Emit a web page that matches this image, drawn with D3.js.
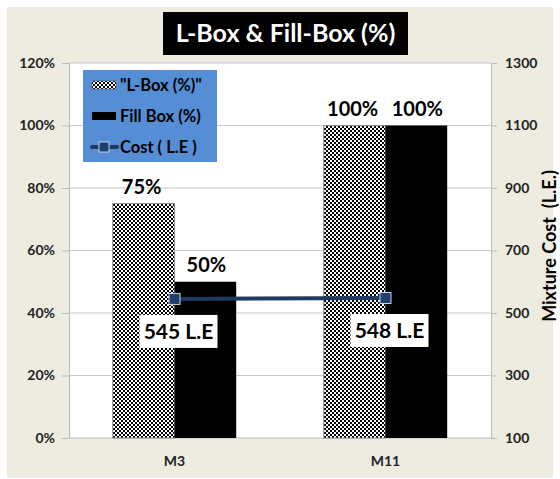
<!DOCTYPE html>
<html>
<head>
<meta charset="utf-8">
<script src="https://cdn.jsdelivr.net/npm/d3@7"></script>
<style>
  body { margin: 0; background: #fff; }
  text { font-family: Lato, "Open Sans", sans-serif; font-weight: bold; }
</style>
</head>
<body>
<svg width="560" height="479"></svg>
<script>
// data
var categories = ['M3', 'M11'];
var lBox = [75, 100];        // "L-Box (%)"
var fillBox = [50, 100];     // Fill Box (%)
var cost = [545, 548];       // Cost (L.E)
var leftTicks = [0, 20, 40, 60, 80, 100, 120];
var rightTicks = [100, 300, 500, 700, 900, 1100, 1300];

var svg = d3.select('svg');

// chart background
svg.append('rect').attr('x', 7).attr('y', 7).attr('width', 546).attr('height', 471)
   .attr('fill', '#EEEBE1');

var plot = {left: 69, right: 491, top: 63, bottom: 438};

// checker pattern for L-Box
var defs = svg.append('defs');
var pat = defs.append('pattern').attr('id', 'checker')
   .attr('patternUnits', 'userSpaceOnUse').attr('width', 4).attr('height', 4);
pat.append('rect').attr('width', 4).attr('height', 4).attr('fill', '#fff');
pat.append('rect').attr('width', 2).attr('height', 2).attr('fill', '#000');
pat.append('rect').attr('x', 2).attr('y', 2).attr('width', 2).attr('height', 2).attr('fill', '#000');

var x0 = d3.scaleBand().domain(categories).range([plot.left, plot.right]).paddingInner(0).paddingOuter(0);
var x1 = d3.scaleBand().domain(['l', 'f']).range([0, x0.bandwidth()]).paddingInner(0).paddingOuter(0.71);
var yL = d3.scaleLinear().domain([0, 120]).range([plot.bottom, plot.top]);
var yR = d3.scaleLinear().domain([100, 1300]).range([plot.bottom, plot.top]);

// plot area
svg.append('rect').attr('x', plot.left).attr('y', plot.top)
   .attr('width', plot.right - plot.left).attr('height', plot.bottom - plot.top)
   .attr('fill', '#fff');

// gridlines
svg.append('g').selectAll('line').data(leftTicks.slice(1)).join('line')
   .attr('x1', plot.left).attr('x2', plot.right)
   .attr('y1', function(d) { return yL(d); }).attr('y2', function(d) { return yL(d); })
   .attr('stroke', '#c8c8c8').attr('stroke-width', 1);

// left axis
var axL = svg.append('g').attr('transform', 'translate(' + plot.left + ',0)')
   .call(d3.axisLeft(yL).tickValues(leftTicks).tickSize(7).tickFormat(function(d) { return d + '%'; }));
axL.select('.domain').attr('stroke', '#bbb');
axL.selectAll('.tick line').attr('stroke', '#bbb');
axL.selectAll('text').attr('font-size', 14).attr('fill', '#222').attr('dx', -4);

// right axis
var axR = svg.append('g').attr('transform', 'translate(' + plot.right + ',0)')
   .call(d3.axisRight(yR).tickValues(rightTicks).tickSize(6).tickFormat(d3.format('d')));
axR.select('.domain').attr('stroke', '#bbb');
axR.selectAll('.tick line').attr('stroke', '#bbb');
axR.selectAll('text').attr('font-size', 14).attr('fill', '#222').attr('dx', 5);

// bottom axis line + labels
svg.append('line').attr('x1', plot.left).attr('x2', plot.right)
   .attr('y1', plot.bottom).attr('y2', plot.bottom).attr('stroke', '#bbb');
svg.append('g').selectAll('text').data(categories).join('text')
   .attr('x', function(d) { return x0(d) + x0.bandwidth() / 2; })
   .attr('y', 466).attr('text-anchor', 'middle').attr('font-size', 14).attr('fill', '#222')
   .text(function(d) { return d; });

// bars
var groups = svg.append('g').selectAll('g').data(categories).join('g')
   .attr('transform', function(d) { return 'translate(' + x0(d) + ',0)'; });
groups.append('rect')
   .attr('x', x1('l')).attr('width', x1.bandwidth())
   .attr('y', function(d, i) { return yL(lBox[i]); })
   .attr('height', function(d, i) { return plot.bottom - yL(lBox[i]); })
   .attr('fill', 'url(#checker)').attr('stroke', '#888').attr('stroke-width', 1);
groups.append('rect')
   .attr('x', x1('f')).attr('width', x1.bandwidth())
   .attr('y', function(d, i) { return yL(fillBox[i]); })
   .attr('height', function(d, i) { return plot.bottom - yL(fillBox[i]); })
   .attr('fill', '#000');

// bar labels
groups.append('text')
   .attr('x', x1('l') + x1.bandwidth() / 2 - 2)
   .attr('y', function(d, i) { return yL(lBox[i]) - 10; })
   .attr('text-anchor', 'middle').attr('font-size', 20).attr('fill', '#000')
   .text(function(d, i) { return lBox[i] + '%'; });
groups.append('text')
   .attr('x', x1('f') + x1.bandwidth() / 2 + 1)
   .attr('y', function(d, i) { return yL(fillBox[i]) - 10; })
   .attr('text-anchor', 'middle').attr('font-size', 20).attr('fill', '#000')
   .text(function(d, i) { return fillBox[i] + '%'; });

// cost line
var cx = function(d, i) { return x0(categories[i]) + x0.bandwidth() / 2; };
svg.append('path').datum(cost)
   .attr('d', d3.line().x(cx).y(function(d) { return yR(d); }))
   .attr('fill', 'none').attr('stroke', '#1F3A60').attr('stroke-width', 4);
svg.append('g').selectAll('rect').data(cost).join('rect')
   .attr('x', function(d, i) { return cx(d, i) - 5.5; })
   .attr('y', function(d) { return yR(d) - 5.5; })
   .attr('width', 11).attr('height', 11)
   .attr('fill', '#1F3F6E').attr('stroke', '#c9d3e3').attr('stroke-width', 1);

// cost labels
var cl = svg.append('g').selectAll('g').data(cost).join('g')
   .attr('transform', function(d, i) { return 'translate(' + (cx(d, i) + 4) + ',' + (yR(d) + 32) + ')'; });
cl.append('rect').attr('x', -39).attr('y', -16).attr('width', 78).attr('height', 33).attr('fill', '#fff');
cl.append('text').attr('text-anchor', 'middle').attr('y', 8).attr('font-size', 21).attr('fill', '#000')
   .text(function(d) { return d + ' L.E'; });

// right axis title
svg.append('text').attr('transform', 'translate(556,246) rotate(-90)')
   .attr('text-anchor', 'middle').attr('font-size', 18).attr('fill', '#000')
   .attr('xml:space', 'preserve')
   .text('Mixture Cost  (L.E.)');

// title
svg.append('rect').attr('x', 163).attr('y', 12).attr('width', 245).attr('height', 43).attr('fill', '#000');
svg.append('text').attr('x', 285.5).attr('y', 42).attr('text-anchor', 'middle')
   .attr('font-size', 25).attr('fill', '#fff').text('L-Box & Fill-Box (%)');

// legend
var leg = svg.append('g').attr('transform', 'translate(83,70)');
leg.append('rect').attr('width', 134).attr('height', 92).attr('fill', '#558ED5');
var legItems = ['"L-Box (%)"', 'Fill Box (%)', 'Cost ( L.E )'];
var li = leg.selectAll('g').data(legItems).join('g')
   .attr('transform', function(d, i) { return 'translate(0,' + (15 + i * 31) + ')'; });
li.append('text').attr('x', 37).attr('y', 6).attr('font-size', 16.5).attr('fill', '#000')
   .text(function(d) { return d; });
leg.append('rect').attr('x', 9).attr('y', 11).attr('width', 24).attr('height', 8)
   .attr('fill', 'url(#checker)').attr('stroke', '#555').attr('stroke-width', 0.5);
leg.append('rect').attr('x', 9).attr('y', 42).attr('width', 24).attr('height', 8).attr('fill', '#000');
leg.append('line').attr('x1', 9).attr('x2', 34).attr('y1', 77).attr('y2', 77)
   .attr('stroke', '#1F3A60').attr('stroke-width', 4).attr('stroke-linecap', 'round');
leg.append('rect').attr('x', 16).attr('y', 72).attr('width', 10).attr('height', 10)
   .attr('fill', '#1F3F6E').attr('stroke', '#c9d3e3').attr('stroke-width', 1);
</script>
</body>
</html>
